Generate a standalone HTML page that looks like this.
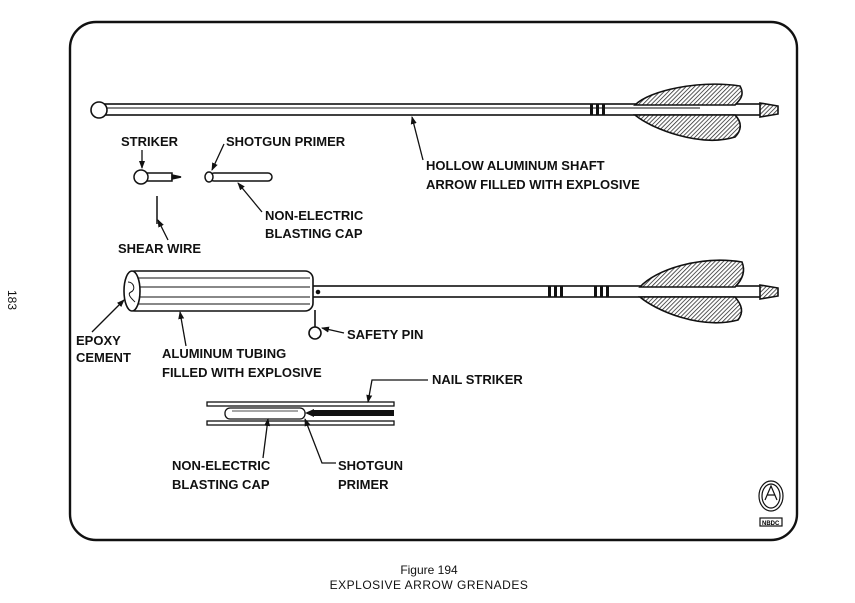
<!DOCTYPE html>
<html><head><meta charset="utf-8"><style>
html,body{margin:0;padding:0;background:#fff;}
svg{display:block;}
.l{font-family:"Liberation Sans",sans-serif;font-weight:bold;font-size:13px;fill:#111;}
.c{font-family:"Liberation Sans",sans-serif;font-size:12px;fill:#111;}
</style></head><body>
<svg width="855" height="603" viewBox="0 0 855 603" xmlns="http://www.w3.org/2000/svg">
<defs>
<pattern id="h" width="3" height="3" patternUnits="userSpaceOnUse" patternTransform="rotate(45)">
<rect width="3" height="3" fill="#fff"/><line x1="0" y1="0" x2="0" y2="3" stroke="#222" stroke-width="1.5"/></pattern>
<marker id="a" markerWidth="8" markerHeight="8" refX="7" refY="4" orient="auto" markerUnits="userSpaceOnUse">
<path d="M0,1 L8,4 L0,7 Z" fill="#111"/></marker>
</defs>
<rect x="70" y="22" width="727" height="518" rx="26" fill="none" stroke="#111" stroke-width="2.4"/>
<text x="8" y="290" class="c" transform="rotate(90 8 290)" font-size="11">183</text>

<!-- Arrow 1 -->
<g stroke="#111" fill="none" stroke-width="1.6">
<rect x="103" y="104" width="660" height="11" fill="#fff"/>
<line x1="103" y1="108" x2="700" y2="108" stroke-width="0.9"/>
<ellipse cx="99" cy="110" rx="8" ry="8" fill="#fff"/>
<path d="M635,105 C650,90 700,80 740,86 C745,95 740,100 735,105 Z" fill="url(#h)"/>
<path d="M635,115 C650,128 700,148 735,137 C742,130 742,122 735,115 Z" fill="url(#h)"/>
<path d="M760,103 L778,106 L778,114 L760,117 Z" fill="url(#h)"/>
</g>
<rect x="590" y="104" width="3" height="11" fill="#111"/><rect x="596" y="104" width="3" height="11" fill="#111"/><rect x="602" y="104" width="3" height="11" fill="#111"/>

<!-- Striker and primer -->
<g stroke="#111" fill="#fff" stroke-width="1.5">
<rect x="140" y="173" width="32" height="8"/>
<ellipse cx="141" cy="177" rx="7" ry="7"/>
<path d="M172,175 L181,177 L172,179 Z" fill="#111"/>
<rect x="210" y="173" width="62" height="8" rx="4"/>
<ellipse cx="209" cy="177" rx="4" ry="5"/>
<line x1="157" y1="196" x2="157" y2="224"/>
</g>

<!-- Arrow 2 -->
<g stroke="#111" fill="none" stroke-width="1.6">
<rect x="312" y="286" width="452" height="11" fill="#fff"/>
<rect x="127" y="271" width="186" height="40" rx="8" fill="#fff"/>
<line x1="135" y1="278" x2="310" y2="278" stroke-width="0.9"/>
<line x1="135" y1="287" x2="310" y2="287" stroke-width="0.9"/>
<line x1="135" y1="297" x2="310" y2="297" stroke-width="0.9"/>
<line x1="135" y1="304" x2="310" y2="304" stroke-width="0.9"/>
<ellipse cx="132" cy="291" rx="8" ry="20" fill="#fff"/>
<path d="M128,282 c6,0 8,8 3,10 c-5,2 2,8 4,10" stroke-width="1"/>
<path d="M640,287 C655,270 700,255 742,262 C746,272 742,280 735,287 Z" fill="url(#h)"/>
<path d="M640,297 C655,310 700,330 738,320 C744,312 742,305 735,297 Z" fill="url(#h)"/>
<path d="M760,285 L778,288 L778,296 L760,299 Z" fill="url(#h)"/>
<circle cx="318" cy="292" r="1.5" fill="#111"/>
<line x1="315" y1="310" x2="315" y2="327"/>
<ellipse cx="315" cy="333" rx="6" ry="6" fill="#fff"/>
</g>
<rect x="548" y="286" width="3" height="11" fill="#111"/><rect x="554" y="286" width="3" height="11" fill="#111"/><rect x="560" y="286" width="3" height="11" fill="#111"/>
<rect x="594" y="286" width="3" height="11" fill="#111"/><rect x="600" y="286" width="3" height="11" fill="#111"/><rect x="606" y="286" width="3" height="11" fill="#111"/>

<!-- Nail striker assembly -->
<g stroke="#111" fill="#fff" stroke-width="1.3">
<rect x="207" y="402" width="187" height="4"/>
<rect x="207" y="421" width="187" height="4"/>
<rect x="225" y="408" width="80" height="11" rx="5"/>
<line x1="232" y1="411" x2="298" y2="411" stroke-width="0.7"/>
</g>
<rect x="312" y="410" width="82" height="6" fill="#111"/>
<path d="M305,413 L314,409 L314,417 Z" fill="#111"/>

<!-- Labels -->
<text class="l" x="121" y="146">STRIKER</text>
<text class="l" x="226" y="146">SHOTGUN PRIMER</text>
<text class="l" x="426" y="170">HOLLOW ALUMINUM SHAFT</text>
<text class="l" x="426" y="189">ARROW FILLED WITH EXPLOSIVE</text>
<text class="l" x="265" y="220">NON-ELECTRIC</text>
<text class="l" x="265" y="238">BLASTING CAP</text>
<text class="l" x="118" y="253">SHEAR WIRE</text>
<text class="l" x="76" y="345">EPOXY</text>
<text class="l" x="76" y="362">CEMENT</text>
<text class="l" x="162" y="358">ALUMINUM TUBING</text>
<text class="l" x="162" y="377">FILLED WITH EXPLOSIVE</text>
<text class="l" x="347" y="339">SAFETY PIN</text>
<text class="l" x="432" y="384">NAIL STRIKER</text>
<text class="l" x="172" y="470">NON-ELECTRIC</text>
<text class="l" x="172" y="489">BLASTING CAP</text>
<text class="l" x="338" y="470">SHOTGUN</text>
<text class="l" x="338" y="489">PRIMER</text>

<!-- Leaders -->
<g stroke="#111" stroke-width="1.3" fill="none" marker-end="url(#a)">
<line x1="142" y1="150" x2="142" y2="168"/>
<line x1="224" y1="144" x2="212" y2="170"/>
<line x1="423" y1="160" x2="412" y2="117"/>
<line x1="262" y1="212" x2="238" y2="183"/>
<line x1="168" y1="240" x2="158" y2="220"/>
<line x1="92" y1="332" x2="124" y2="300"/>
<line x1="186" y1="346" x2="180" y2="312"/>
<line x1="344" y1="333" x2="322" y2="328"/>
<polyline points="428,380 372,380 368,402"/>
<line x1="263" y1="458" x2="268" y2="419"/>
<polyline points="336,463 322,463 305,419"/>
</g>

<!-- Emblem -->
<g stroke="#111" fill="none" stroke-width="1.2">
<ellipse cx="771" cy="496" rx="12" ry="15"/>
<ellipse cx="771" cy="496" rx="9" ry="12"/>
<path d="M765,500 L771,486 L777,500 M767,495 L775,495"/>
<rect x="760" y="518" width="22" height="8" fill="#fff"/>
</g>
<text x="762" y="525" font-family="Liberation Sans,sans-serif" font-size="6" font-weight="bold">NBDC</text>

<text class="c" x="429" y="574" text-anchor="middle">Figure 194</text>
<text class="c" x="429" y="589" text-anchor="middle" letter-spacing="0.5">EXPLOSIVE ARROW GRENADES</text>
</svg>
</body></html>
